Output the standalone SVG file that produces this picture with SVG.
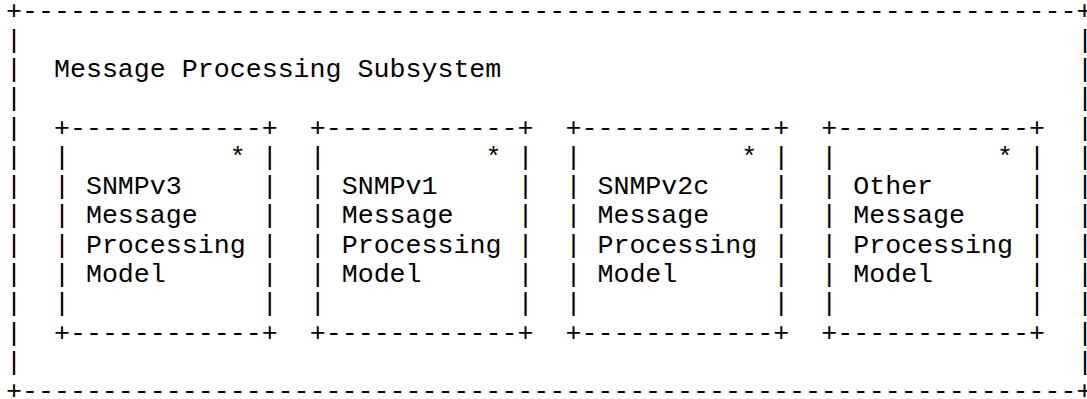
<svg xmlns="http://www.w3.org/2000/svg" width="1087" height="399" viewBox="0 0 1087 399">
<style>
  text { font-family: "Liberation Mono", "Courier New", monospace; font-size: 26.64px; fill: #000; white-space: pre; }
</style>
<rect x="0" y="0" width="1087" height="399" fill="#fff"/>
<g id="subsystem">
  <text x="6" y="18.5">+------------------------------------------------------------------+</text>
  <text x="6" y="399.14">+------------------------------------------------------------------+</text>
  <g id="outer-left">
    <text x="6" y="47.78">|</text><text x="6" y="77.06">|</text><text x="6" y="106.34">|</text>
    <text x="6" y="135.62">|</text><text x="6" y="164.9">|</text><text x="6" y="194.18">|</text>
    <text x="6" y="223.46">|</text><text x="6" y="252.74">|</text><text x="6" y="282.02">|</text>
    <text x="6" y="311.3">|</text><text x="6" y="340.58">|</text><text x="6" y="369.86">|</text>
  </g>
  <g id="outer-right">
    <text x="1077" y="47.78">|</text><text x="1077" y="77.06">|</text><text x="1077" y="106.34">|</text>
    <text x="1077" y="135.62">|</text><text x="1077" y="164.9">|</text><text x="1077" y="194.18">|</text>
    <text x="1077" y="223.46">|</text><text x="1077" y="252.74">|</text><text x="1077" y="282.02">|</text>
    <text x="1077" y="311.3">|</text><text x="1077" y="340.58">|</text><text x="1077" y="369.86">|</text>
  </g>
  <text x="53.96" y="77.06">Message Processing Subsystem</text>
</g>
<g id="snmpv3" transform="translate(53.96 0)">
  <text x="0" y="135.62">+------------+</text>
  <text x="0" y="164.9">|          * |</text>
  <text x="0" y="194.18">| SNMPv3     |</text>
  <text x="0" y="223.46">| Message    |</text>
  <text x="0" y="252.74">| Processing |</text>
  <text x="0" y="282.02">| Model      |</text>
  <text x="0" y="311.3">|            |</text>
  <text x="0" y="340.58">+------------+</text>
</g>
<g id="snmpv1" transform="translate(309.72 0)">
  <text x="0" y="135.62">+------------+</text>
  <text x="0" y="164.9">|          * |</text>
  <text x="0" y="194.18">| SNMPv1     |</text>
  <text x="0" y="223.46">| Message    |</text>
  <text x="0" y="252.74">| Processing |</text>
  <text x="0" y="282.02">| Model      |</text>
  <text x="0" y="311.3">|            |</text>
  <text x="0" y="340.58">+------------+</text>
</g>
<g id="snmpv2c" transform="translate(565.48 0)">
  <text x="0" y="135.62">+------------+</text>
  <text x="0" y="164.9">|          * |</text>
  <text x="0" y="194.18">| SNMPv2c    |</text>
  <text x="0" y="223.46">| Message    |</text>
  <text x="0" y="252.74">| Processing |</text>
  <text x="0" y="282.02">| Model      |</text>
  <text x="0" y="311.3">|            |</text>
  <text x="0" y="340.58">+------------+</text>
</g>
<g id="other" transform="translate(821.24 0)">
  <text x="0" y="135.62">+------------+</text>
  <text x="0" y="164.9">|          * |</text>
  <text x="0" y="194.18">| Other      |</text>
  <text x="0" y="223.46">| Message    |</text>
  <text x="0" y="252.74">| Processing |</text>
  <text x="0" y="282.02">| Model      |</text>
  <text x="0" y="311.3">|            |</text>
  <text x="0" y="340.58">+------------+</text>
</g>
<g id="connectors"></g>
</svg>
